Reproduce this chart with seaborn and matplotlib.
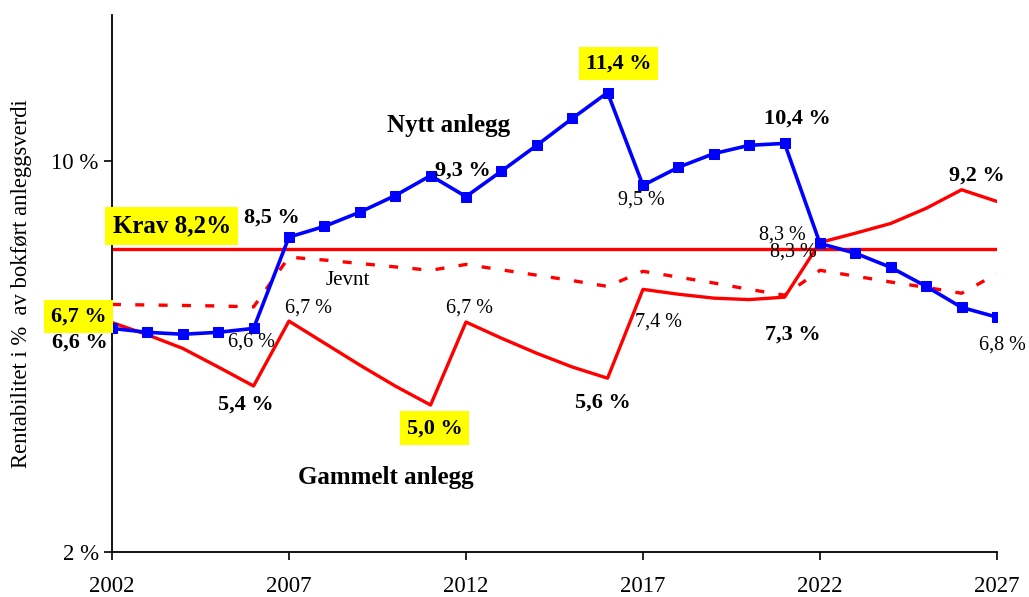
import matplotlib
matplotlib.use("Agg")
import matplotlib.pyplot as plt
import numpy as np
import pandas as pd
import seaborn as sns
from matplotlib.ticker import FuncFormatter

# Data
years = list(range(2002, 2028))
nytt = [6.58, 6.50, 6.46, 6.50, 6.58,
        8.45, 8.67, 8.96, 9.30, 9.71,
        9.28, 9.80, 10.33, 10.88, 11.41,
        9.51, 9.88, 10.16, 10.33, 10.37,
        8.32, 8.12, 7.83, 7.44, 7.01, 6.81]
gammel = [6.70, 6.45, 6.17, 5.79, 5.40,
          6.73, 6.28, 5.83, 5.40, 5.01,
          6.71, 6.38, 6.07, 5.79, 5.56,
          7.38, 7.28, 7.20, 7.17, 7.22,
          8.34, 8.53, 8.73, 9.04, 9.42, 9.18]
jevnt = [7.07, 7.06, 7.05, 7.04, 7.02,
         8.04, 7.98, 7.91, 7.84, 7.77,
         7.89, 7.78, 7.67, 7.56, 7.44,
         7.75, 7.63, 7.51, 7.38, 7.26,
         7.77, 7.65, 7.53, 7.42, 7.30, 7.70]
krav = 8.2

df = pd.DataFrame({"year": years, "nytt": nytt, "gammel": gammel, "jevnt": jevnt})

sns.set_style("ticks")
plt.rcParams["font.family"] = ["Liberation Serif", "DejaVu Serif"]
plt.rcParams["text.color"] = "black"
plt.rcParams["axes.labelcolor"] = "black"

fig = plt.figure(figsize=(10.29, 5.97), dpi=100)
ax = fig.add_axes([0.1088, 0.0754, 0.8601, 0.8995])

sns.lineplot(data=df, x="year", y="jevnt", ax=ax, color="#ff0000", lw=2.4,
             linestyle=(0, (2.7, 4.3)), zorder=2)
ax.plot([years[0], years[-1]], [krav, krav], color="#ff0000", lw=2.4, zorder=2)
sns.lineplot(data=df, x="year", y="gammel", ax=ax, color="#ff0000", lw=2.4, zorder=3)
sns.lineplot(data=df, x="year", y="nytt", ax=ax, color="#0000ff", lw=2.6,
             marker="s", markersize=7, markeredgecolor="#0000ff", zorder=4)

ax.set_xlim(2002, 2027)
ax.set_ylim(2, 13)
ax.set_xticks([2002, 2007, 2012, 2017, 2022, 2027])
ax.set_yticks([2, 10])
ax.yaxis.set_major_formatter(FuncFormatter(lambda v, p: f"{v:.0f} %"))
ax.tick_params(axis="both", direction="out", length=6, width=1.2, labelsize=16.5,
               colors="black")
ax.tick_params(axis="x", pad=11)
ax.set_xlabel("")
ax.set_ylabel("Rentabilitet i %  av bokført anleggsverdi", fontsize=16.3, labelpad=14)
sns.despine(ax=ax)
for s in ["left", "bottom"]:
    ax.spines[s].set_linewidth(1.3)
    ax.spines[s].set_color("black")

yellow = dict(boxstyle="square,pad=0.3", fc="#ffff00", ec="none")


def lab(text, year, series, dx, dy, bold=False, size=None, box=False):
    i = years.index(year)
    val = series[i] if isinstance(series, list) else series
    ax.annotate(text, xy=(year, val), xytext=(dx, dy), textcoords="offset points",
                ha="center", va="center", fontsize=size or (16 if bold else 14.5),
                fontweight="bold" if bold else "normal", color="black",
                bbox=yellow if box else None, annotation_clip=False, zorder=6)


lab("6,7 %", 2002, gammel, -24, 4.3, bold=True, box=True)
lab("6,6 %", 2002, nytt, -23, -10, bold=True)
lab("6,6 %", 2006, nytt, -1.4, -10)
lab("5,4 %", 2006, gammel, -5.8, -13.7, bold=True)
lab("8,5 %", 2007, nytt, -12.2, 13.7, bold=True)
lab("6,7 %", 2007, gammel, 14.4, 9.4)
lab("Jevnt", 2009, jevnt, -8.6, -12.2, size=15)
lab("Nytt anlegg", 2012, nytt, -12.2, 51, bold=True, size=18)
lab("9,3 %", 2012, nytt, -2.2, 18.7, bold=True)
lab("6,7 %", 2012, gammel, 2.2, 10)
lab("5,0 %", 2011, gammel, 2.9, -16.6, bold=True, box=True)
lab("Gammelt anlegg", 2010, gammel, -6.5, -66, bold=True, size=18)
lab("11,4 %", 2016, nytt, 7.9, 20.9, bold=True, box=True)
lab("5,6 %", 2016, gammel, -3.6, -17.3, bold=True)
lab("9,5 %", 2017, nytt, -1.4, -10.8)
lab("7,4 %", 2017, gammel, 11.5, -23.8)
lab("10,4 %", 2021, nytt, 9.4, 18, bold=True)
lab("8,3 %", 2022, nytt, -27.4, 5.8)
lab("8,3 %", 2022, gammel, -19.4, -7.2)
lab("7,3 %", 2021, gammel, 5.8, -26.6, bold=True)
lab("9,2 %", 2027, gammel, -14.4, 18.7, bold=True)
lab("6,8 %", 2027, nytt, 3.6, -20)
lab("Krav 8,2%", 2002, krav, 43, 16.6, bold=True, size=18, box=True)

fig.savefig("out.png", dpi=100)
